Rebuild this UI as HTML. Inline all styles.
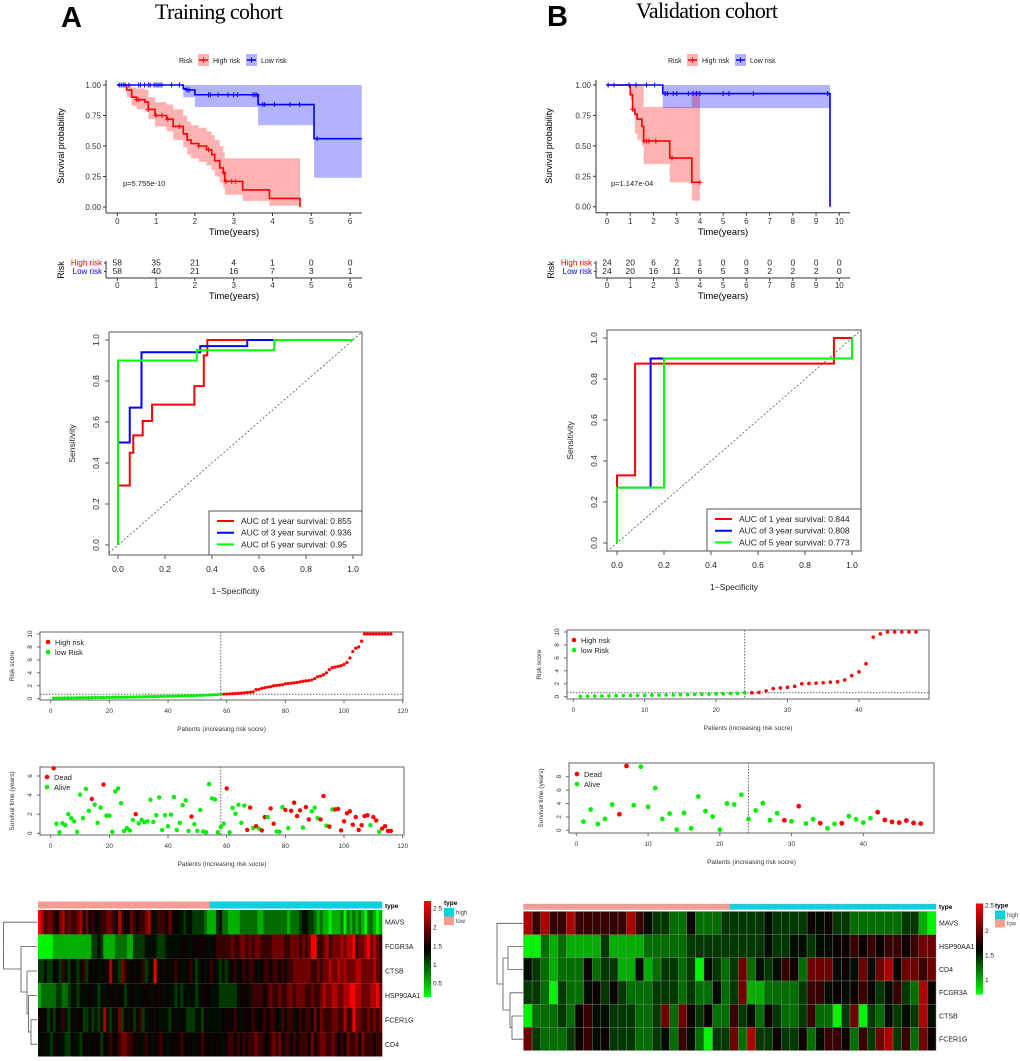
<!DOCTYPE html>
<html><head><meta charset="utf-8">
<style>
body{margin:0;background:#fff}
svg{display:block;font-family:"Liberation Sans",sans-serif}
</style></head>
<body>
<svg id="fig" width="1020" height="1061" viewBox="0 0 1020 1061">
<rect width="1020" height="1061" fill="#fff"/>
<text x="61" y="27" font-size="29" font-weight="bold">A</text>
<text x="155" y="19" font-family="Liberation Serif" font-size="22" textLength="128">Training cohort</text>
<text x="547" y="26" font-size="29" font-weight="bold">B</text>
<text x="636" y="18" font-family="Liberation Serif" font-size="22" textLength="142">Validation cohort</text>
</svg>
<script>
// ---------------- DATA ----------------
const kmHighA_t=[0,0.24,0.37,0.5,0.71,0.8,0.97,1.27,1.44,1.7,1.8,1.9,2.1,2.3,2.43,2.51,2.64,2.73,2.77,3.23,3.92,4.71];
const kmHighA_s=[1,0.96,0.9,0.88,0.86,0.8,0.75,0.72,0.66,0.6,0.55,0.52,0.5,0.47,0.43,0.38,0.32,0.28,0.21,0.14,0.07,0.0];
const kmHighA_u=[1,1,0.98,0.97,0.96,0.9,0.86,0.84,0.8,0.75,0.7,0.67,0.65,0.62,0.59,0.55,0.5,0.45,0.4,0.4,0.4,0.4];
const kmHighA_l=[1,0.9,0.83,0.8,0.78,0.72,0.66,0.62,0.55,0.49,0.43,0.4,0.37,0.34,0.3,0.25,0.2,0.16,0.1,0.05,0.01,0.01];
const kmHighA_c=[0.2,0.5,0.55,0.8,1.0,1.15,1.3,1.6,2.1,2.35,2.75,2.8,2.95,3.05];
const kmLowA_t=[0,1.7,1.77,2.0,3.63,5.07];
const kmLowA_s=[1,0.97,0.96,0.92,0.84,0.56];
const kmLowA_u=[1,1,1,1,1,1];
const kmLowA_l=[1,0.9,0.9,0.82,0.67,0.24];
const kmLowA_c=[0.05,0.1,0.15,0.2,0.3,0.55,0.6,0.7,0.8,0.85,0.95,1.0,1.05,1.1,1.15,1.4,1.6,1.8,1.85,2.35,2.4,2.6,2.85,3.0,3.1,3.5,3.55,3.6,3.75,3.8,4.05,4.45,4.7,5.15];
const nriskHighA=[58,35,21,4,1,0,0];
const nriskLowA=[58,40,21,16,7,3,1];
const timeTicksA=[0,1,2,3,4,5,6];
const kmHighB_t=[0,1.0,1.1,1.2,1.3,1.5,1.58,2.7,3.65];
const kmHighB_s=[1,0.92,0.8,0.76,0.72,0.66,0.54,0.4,0.2];
const kmHighB_u=[1,1,1,1,1,1,0.82,0.82,0.95];
const kmHighB_l=[1,0.88,0.78,0.6,0.55,0.5,0.35,0.2,0.05];
const kmHighB_c=[1.1,1.6,1.7,1.8,2.1,2.8,4.0];
const kmLowB_t=[0,2.4,9.6];
const kmLowB_s=[1,0.93,0];
const kmLowB_u=[1,1,1];
const kmLowB_l=[1,0.81,0.81];
const kmLowB_c=[0.05,0.3,0.95,1.25,1.7,2.05,2.5,2.6,2.85,3.0,3.5,3.7,3.85,4.0,5.0,5.25,6.3,9.5];
const nriskHighB=[24,20,6,2,1,0,0,0,0,0,0];
const nriskLowB=[24,20,16,11,6,5,3,2,2,2,0];
const timeTicksB=[0,1,2,3,4,5,6,7,8,9,10];
const survTicks=[0,0.25,0.5,0.75,1];
const survTickLabels=['0.00','0.25','0.50','0.75','1.00'];
const rocA1_fpr=[0,0,0.05,0.05,0.065,0.065,0.105,0.105,0.145,0.145,0.325,0.325,0.365,0.365,0.38,0.38,1];
const rocA1_tpr=[0,0.29,0.29,0.45,0.45,0.535,0.535,0.605,0.605,0.685,0.685,0.775,0.775,0.925,0.925,1,1];
const rocA3_fpr=[0,0,0.05,0.05,0.1,0.1,0.35,0.35,0.55,0.55,1];
const rocA3_tpr=[0,0.5,0.5,0.67,0.67,0.94,0.94,0.97,0.97,1,1];
const rocA5_fpr=[0,0,0.335,0.335,0.665,0.665,1];
const rocA5_tpr=[0,0.9,0.9,0.95,0.95,1,1];
const aucA=['0.855','0.936','0.95'];
const rocB1_fpr=[0,0,0.077,0.077,0.923,0.923,1];
const rocB1_tpr=[0,0.33,0.33,0.875,0.875,1,1];
const rocB3_fpr=[0,0,0.143,0.143,0.2,1,1];
const rocB3_tpr=[0,0.27,0.27,0.9,0.9,0.9,1];
const rocB5_fpr=[0,0,0.2,0.2,1,1];
const rocB5_tpr=[0,0.27,0.27,0.9,0.9,1];
const aucB=['0.844','0.808','0.773'];
const rocTicks=[0,0.2,0.4,0.6,0.8,1.0];
const rocTickLabels=['0.0','0.2','0.4','0.6','0.8','1.0'];
const riskA=[0.10,0.11,0.12,0.12,0.13,0.13,0.14,0.14,0.15,0.15,0.16,0.16,0.17,0.17,0.18,0.18,0.19,0.19,0.20,0.20,0.21,0.22,0.22,0.23,0.24,0.24,0.25,0.26,0.27,0.28,0.29,0.30,0.31,0.32,0.33,0.34,0.35,0.36,0.37,0.38,0.39,0.40,0.41,0.42,0.43,0.44,0.45,0.46,0.48,0.50,0.52,0.54,0.56,0.58,0.60,0.62,0.64,0.66,
0.70,0.72,0.74,0.76,0.78,0.82,0.86,0.90,0.95,1.00,1.05,1.40,1.45,1.60,1.70,1.80,1.85,2.00,2.05,2.10,2.15,2.30,2.35,2.40,2.45,2.50,2.60,2.70,2.75,2.80,2.90,3.10,3.40,3.50,3.70,4.00,4.50,4.80,4.90,5.00,5.10,5.30,5.60,6.30,7.30,7.80,8.00,8.90,10,10,10,10,10,10,10,10,10,10];
const lowCountA=58;
const cutoffA=0.68;
const riskB=[0.05,0.07,0.09,0.11,0.12,0.14,0.16,0.18,0.2,0.22,0.24,0.25,0.27,0.28,0.3,0.32,0.34,0.37,0.4,0.43,0.46,0.5,0.53,0.6,
0.62,0.66,0.9,1.25,1.35,1.45,1.6,2.0,2.05,2.1,2.15,2.25,2.3,2.6,3.25,3.85,5.1,9.2,9.7,10,10,10,10,10];
const lowCountB=24;
const cutoffB=0.62;
const riskTicks=[0,2,4,6,8,10];
const timeA=[6.8,1.0,0.1,1.05,0.85,2.0,1.6,1.25,0.15,4.05,1.6,4.65,2.35,3.6,3.0,1.1,2.7,5.1,1.85,1.85,0.15,4.4,4.7,3.15,0.25,0.55,0.3,1.4,2.0,1.05,1.4,1.15,1.25,3.5,1.2,1.9,3.75,0.35,1.9,0.75,1.95,3.8,0.35,1.1,2.95,3.45,0.25,1.75,0.95,0.25,2.45,0.2,0.1,5.15,3.65,3.55,0.1,0.65,1.0,4.7,0.1,2.65,2.05,3.0,1.1,2.9,0.35,2.7,0.55,0.75,0.5,0.3,1.7,1.7,2.6,1.0,0.2,0.15,2.75,2.45,0.55,2.35,3.2,1.8,2.4,0.6,2.75,1.45,2.3,2.7,1.6,1.45,3.9,0.8,0.7,2.5,2.5,2.55,0.3,1.25,2.1,2.3,0.9,1.7,0.35,0.85,1.8,1.9,0.85,1.7,1.35,0.15,0.5,0.75,0.25,0.25];
const deadA=[1,0,0,0,0,0,0,0,0,0, 0,0,0,1,0,0,0,1,0,0, 0,0,0,0,0,0,0,0,1,0, 0,0,0,0,0,0,0,0,0,0, 0,0,0,0,0,0,0,1,0,0, 0,0,0,0,0,0,0,0,0,1, 0,0,0,0,0,0,1,1,0,1, 0,1,1,0,1,1,0,0,0,1, 0,1,1,1,1,0,1,1,0,0, 0,1,1,0,1,0,1,1,1,1, 1,1,1,1,1,1,1,1,0,1, 1,0,1,1,1,1];
const timeB=[1.3,3.1,0.95,1.7,3.85,2.4,9.6,3.75,9.5,3.5,6.3,1.7,2.5,0.1,2.6,0.3,5.05,2.85,2.05,0.1,4.0,3.85,5.3,1.7,2.95,4.05,1.5,2.55,1.5,1.35,3.6,1.0,1.65,1.05,0.3,0.95,1.05,2.1,1.65,1.15,1.8,2.7,1.55,1.25,1.15,1.45,1.1,1.0];
const deadB=[0,0,0,0,0,1,1,0,0,0, 0,0,0,0,0,0,0,0,0,0, 0,0,0,0,0,0,0,0,1,0, 1,0,0,1,0,0,1,0,0,0, 0,1,1,1,1,1,1,1];
const survTicksA=[0,2,4,6];
const survTicksB=[0,2,4,6,8];
const patTicksA=[0,20,40,60,80,100,120];
const patTicksB=[0,10,20,30,40];
const genesA=['MAVS','FCGR3A','CTSB','HSP90AA1','FCER1G','CD4'];
const heatA=[
'9867765786'+'7667857565'+'4667765865'+'5765667844'+'6665755443'+'4433332111'+'3422111122'+'2222112222'+'2222122234'+'4332121101'+'1120212121'+'022101',
'0000011111'+'1111111133'+'4311112222'+'1133334444'+'3334444455'+'4455555445'+'6666676677'+'6767766667'+'7776677767'+'6799667867'+'7787889677'+'897876',
'3343354364'+'3543463545'+'4455854376'+'4545463449'+'5545456544'+'5643454565'+'4343456456'+'5665456656'+'6565667777'+'7766767787'+'7878777887'+'777876',
'1222223322'+'3443444544'+'3444554543'+'4544455545'+'5545443434'+'4443455544'+'4333333455'+'5466665676'+'6766776777'+'6676678778'+'8778899887'+'778897',
'5453435464'+'3545533434'+'3484354735'+'4534634454'+'5444354454'+'3334435444'+'4455556545'+'5565556566'+'5465664565'+'6657576667'+'7668669776'+'676767',
'4544345443'+'3544355455'+'5354655677'+'6655446545'+'5654455565'+'4545565545'+'5445665656'+'5667665567'+'6756656566'+'6575677667'+'6565766757'+'666566'];
const typeLowA=58;
const genesB=['MAVS','HSP90AA1','CD4','FCGR3A','CTSB','FCER1G'];
const heatB=[
'868668666666864332252223'+'333343333545332222223310',
'002121111311112222233333'+'333343344344556565665677',
'432122252331141233230432'+'372434652777454747857767',
'332032245353222333232242'+'371122223664545653463285',
'022232564433322372753522'+'634253223622037032434384',
'732223564533322342642033'+'728335335246652637836275'];
const typeLowB=24;

// ---------------- HELPERS ----------------
const NS='http://www.w3.org/2000/svg';
const svg=document.getElementById('fig');
function mk(tag,attrs,parent){const e=document.createElementNS(NS,tag);for(const k in attrs)e.setAttribute(k,attrs[k]);(parent||svg).appendChild(e);return e;}
function tx(x,y,s,attrs,parent){const e=mk('text',Object.assign({x:x,y:y},attrs||{}),parent);e.textContent=s;return e;}
function grp(name){const g=mk('g',{});


return g;}
function heatColor(L){const t=L/9;const a=Math.pow(Math.abs(2*t-1),1.35);const v=Math.round(245*a);return t<0.5?`rgb(0,${v},0)`:`rgb(${v},0,0)`;}

// ---------------- KM ----------------
function km(c){
 const g=grp(c.name);
 const X=t=>c.x0+t*c.ppy, Y=s=>c.y0-(c.y0-c.y1)*s;
 const lg=grp(c.name+'-legend'); g.appendChild(lg);
 tx(c.legX,63,'Risk',{'font-size':7,fill:'#222'},lg);
 c.groups.forEach((gr,i)=>{
  const bx=c.legX+19+i*48;
  const r=mk('rect',{x:bx,y:54,width:11,height:12,fill:gr.color,'fill-opacity':0.3},lg);
  
  
  mk('line',{x1:bx+1,y1:60,x2:bx+10,y2:60,stroke:gr.color,'stroke-width':1.5},lg);
  mk('line',{x1:bx+5.5,y1:57.5,x2:bx+5.5,y2:62.5,stroke:gr.color,'stroke-width':1},lg);
  tx(bx+15,63,gr.label,{'font-size':7,fill:'#222'},lg);
 });
 c.groups.forEach(gr=>{
  const n=gr.t.length;
  let d=`M${X(gr.t[0])},${Y(gr.u[0])}`;
  for(let i=1;i<n;i++)d+=`H${X(gr.t[i])}V${Y(gr.u[i])}`;
  d+=`H${X(gr.end)}V${Y(gr.l[n-1])}`;
  for(let i=n-1;i>=1;i--)d+=`H${X(gr.t[i])}V${Y(gr.l[i-1])}`;
  d+=`H${X(gr.t[0])}Z`;
  const p=mk('path',{d:d,fill:gr.color,'fill-opacity':0.3,stroke:'none'},g);
  
  
 });
 c.groups.forEach(gr=>{
  const n=gr.t.length;
  let d=`M${X(gr.t[0])},${Y(gr.s[0])}`;
  for(let i=1;i<n;i++)d+=`H${X(gr.t[i])}V${Y(gr.s[i])}`;
  d+=`H${X(gr.end)}`;
  const p=mk('path',{d:d,fill:'none',stroke:gr.color,'stroke-width':1.6},g);
  
  
  gr.c.forEach(ct=>{
   let s=gr.s[0];for(let i=0;i<n;i++)if(gr.t[i]<=ct)s=gr.s[i];
   const cm=mk('path',{d:`M${X(ct)-2.5},${Y(s)}h5M${X(ct)},${Y(s)-2.5}v5`,stroke:gr.color,'stroke-width':1},g);
   
   
  });
 });
 mk('line',{x1:c.ax,y1:80,x2:c.ax,y2:c.ab,stroke:'#333','stroke-width':1},g);
 mk('line',{x1:c.ax,y1:c.ab,x2:c.ar,y2:c.ab,stroke:'#333','stroke-width':1},g);
 survTicks.forEach((v,i)=>{
  mk('line',{x1:c.ax-3,y1:Y(v),x2:c.ax,y2:Y(v),stroke:'#333'},g);
  tx(c.ax-5,Y(v)+3,survTickLabels[i],{'font-size':8,'text-anchor':'end',fill:'#333'},g);
 });
 c.ticks.forEach(v=>{
  mk('line',{x1:X(v),y1:c.ab,x2:X(v),y2:c.ab+3,stroke:'#333'},g);
  tx(X(v),224,String(v),{'font-size':8,'text-anchor':'middle',fill:'#333'},g);
 });
 tx((c.ax+c.ar)/2,235,'Time(years)',{'font-size':9.5,'text-anchor':'middle'},g);
 tx(0,0,'Survival probability',{'font-size':9,'text-anchor':'middle',transform:`translate(${c.ylabX},146) rotate(-90)`},g);
 tx(c.pX,186,c.pval,{'font-size':7.5,fill:'#222'},g);
 const rt=grp(c.name+'-risk-table'); g.appendChild(rt);
 mk('line',{x1:c.ax,y1:261,x2:c.ax,y2:278,stroke:'#333'},rt);
 mk('line',{x1:c.ax,y1:278,x2:c.ar,y2:278,stroke:'#333'},rt);
 [[c.groups[0],265.5,c.nHigh],[c.groups[1],274,c.nLow]].forEach(([gr,yy,arr])=>{
  mk('line',{x1:c.ax-2,y1:yy-2.5,x2:c.ax,y2:yy-2.5,stroke:'#333'},rt);
  tx(c.ax-4,yy,gr.label,{'font-size':8,'text-anchor':'end',fill:gr.color},rt);
  arr.forEach((v,i)=>tx(X(c.ticks[i]),yy,String(v),{'font-size':8.5,'text-anchor':'middle',fill:'#222'},rt));
 });
 c.ticks.forEach(v=>{
  mk('line',{x1:X(v),y1:278,x2:X(v),y2:281,stroke:'#333'},rt);
  tx(X(v),288,String(v),{'font-size':8,'text-anchor':'middle',fill:'#333'},rt);
 });
 tx((c.ax+c.ar)/2,299,'Time(years)',{'font-size':9.5,'text-anchor':'middle'},rt);
 tx(0,0,'Risk',{'font-size':9,'text-anchor':'middle',transform:`translate(${c.ax-42},270) rotate(-90)`},rt);
}
km({name:'km-training',x0:117.3,ppy:38.8,y1:85,y0:207,ax:106,ab:213,ar:362,legX:179,ylabX:64,pX:123,pval:'p=5.755e-10',ticks:timeTicksA,nHigh:nriskHighA,nLow:nriskLowA,
 groups:[{key:'high-risk',label:'High risk',color:'#FF0000',t:kmHighA_t,s:kmHighA_s,u:kmHighA_u,l:kmHighA_l,c:kmHighA_c,end:4.71},
         {key:'low-risk',label:'Low risk',color:'#0000FF',t:kmLowA_t,s:kmLowA_s,u:kmLowA_u,l:kmLowA_l,c:kmLowA_c,end:6.3}]});
km({name:'km-validation',x0:607,ppy:23.23,y1:85,y0:206.7,ax:596,ab:212.7,ar:850,legX:668,ylabX:552,pX:611,pval:'p=1.147e-04',ticks:timeTicksB,nHigh:nriskHighB,nLow:nriskLowB,
 groups:[{key:'high-risk',label:'High risk',color:'#FF0000',t:kmHighB_t,s:kmHighB_s,u:kmHighB_u,l:kmHighB_l,c:kmHighB_c,end:4.0},
         {key:'low-risk',label:'Low risk',color:'#0000FF',t:kmLowB_t,s:kmLowB_s,u:kmLowB_u,l:kmLowB_l,c:kmLowB_c,end:9.6}]});

// ---------------- ROC ----------------
function roc(c){
 const g=grp(c.name);
 const X=v=>c.x0+(c.x1-c.x0)*v, Y=v=>c.y0-(c.y0-c.y1)*v;
 const box=mk('rect',{x:c.bx,y:c.by,width:c.bw,height:c.bh,fill:'none',stroke:'#555','stroke-width':1},g);
 
 
 const t0=(c.bx-c.x0)/(c.x1-c.x0), t1=(c.bx+c.bw-c.x0)/(c.x1-c.x0);
 mk('line',{x1:X(t0),y1:Y(t0),x2:X(t1),y2:Y(t1),stroke:'#555','stroke-dasharray':'2,2','stroke-width':0.8},g);
 const cols=['#FF0000','#0000FF','#00FF00'];
 c.curves.forEach((cv,k)=>{
  const p=mk('polyline',{points:cv.f.map((f,i)=>X(f)+','+Y(cv.t[i])).join(' '),fill:'none',stroke:cols[k],'stroke-width':2},g);
  
  
 });
 rocTicks.forEach((v,i)=>{
  mk('line',{x1:X(v),y1:c.by+c.bh,x2:X(v),y2:c.by+c.bh+4,stroke:'#555'},g);
  tx(X(v),c.by+c.bh+17,rocTickLabels[i],{'font-size':8.5,'text-anchor':'middle',fill:'#222'},g);
  mk('line',{x1:c.bx-4,y1:Y(v),x2:c.bx,y2:Y(v),stroke:'#555'},g);
  tx(0,0,rocTickLabels[i],{'font-size':8.5,'text-anchor':'middle',fill:'#222',transform:`translate(${c.bx-10},${Y(v)}) rotate(-90)`},g);
 });
 tx((c.bx+c.bw/2),c.by+c.bh+39,'1\u2212Specificity',{'font-size':8.5,'text-anchor':'middle',fill:'#222'},g);
 tx(0,0,'Sensitivity',{'font-size':8.5,'text-anchor':'middle',fill:'#222',transform:`translate(${c.bx-34},${c.by+c.bh/2}) rotate(-90)`},g);
 const lg=grp(c.name+'-legend'); g.appendChild(lg);
 mk('rect',{x:c.lx,y:c.ly,width:c.bx+c.bw-c.lx,height:c.by+c.bh-c.ly,fill:'#fff',stroke:'#555'},lg);
 ['1','3','5'].forEach((yr,k)=>{
  const yy=c.ly+10+k*11.7;
  mk('line',{x1:c.lx+8,y1:yy,x2:c.lx+25,y2:yy,stroke:cols[k],'stroke-width':2},lg);
  tx(c.lx+32,yy+3,`AUC of ${yr} year survival:  ${c.auc[k]}`,{'font-size':8.5,fill:'#222','xml:space':'preserve'},lg);
 });
}
roc({name:'roc-training',bx:109,by:332,bw:253,bh:223,x0:118,x1:353,y0:545,y1:340,lx:209,ly:511,auc:aucA,
 curves:[{f:rocA1_fpr,t:rocA1_tpr},{f:rocA3_fpr,t:rocA3_tpr},{f:rocA5_fpr,t:rocA5_tpr}]});
roc({name:'roc-validation',bx:607,by:330,bw:254,bh:221,x0:617,x1:852,y0:543,y1:338,lx:707,ly:509,auc:aucB,
 curves:[{f:rocB1_fpr,t:rocB1_tpr},{f:rocB3_fpr,t:rocB3_tpr},{f:rocB5_fpr,t:rocB5_tpr}]});

// ---------------- Dot panels ----------------
function dotPanel(c){
 const g=grp(c.name);
 const X=p=>c.x0+p*c.ppp, Y=v=>c.y0-v*c.ppv;
 const box=mk('rect',{x:c.bx,y:c.by,width:c.bw,height:c.bh,fill:'none',stroke:'#666','stroke-width':1},g);
 
 
 c.xt.forEach(v=>{
  mk('line',{x1:X(v),y1:c.by+c.bh,x2:X(v),y2:c.by+c.bh+3,stroke:'#666'},g);
  tx(X(v),c.by+c.bh+13,String(v),{'font-size':6.5,'text-anchor':'middle',fill:'#333'},g);
 });
 c.yt.forEach(v=>{
  mk('line',{x1:c.bx-3,y1:Y(v),x2:c.bx,y2:Y(v),stroke:'#666'},g);
  tx(0,0,String(v),{'font-size':6.5,'text-anchor':'middle',fill:'#333',transform:`translate(${c.bx-8},${Y(v)}) rotate(-90)`},g);
 });
 tx(c.bx+c.bw/2,c.by+c.bh+31,'Patients (increasing risk socre)',{'font-size':6.5,'text-anchor':'middle',fill:'#333'},g);
 tx(0,0,c.ylab,{'font-size':6.5,'text-anchor':'middle',fill:'#333',transform:`translate(${c.bx-26},${c.by+c.bh/2}) rotate(-90)`},g);
 mk('line',{x1:X(c.cut),y1:c.by,x2:X(c.cut),y2:c.by+c.bh,stroke:'#666','stroke-dasharray':'1.5,1.5'},g);
 if(c.hcut!=null) mk('line',{x1:c.bx,y1:Y(c.hcut),x2:c.bx+c.bw,y2:Y(c.hcut),stroke:'#666','stroke-dasharray':'1.5,1.5'},g);
 c.vals.forEach((v,i)=>{
  const red=c.isRed(i);
  const d=mk('circle',{cx:X(i+1),cy:Y(v),r:c.r,fill:red?'#FF0000':'#00EE00'},g);
  
  
 });
 c.leg.forEach((s,k)=>{
  mk('circle',{cx:c.lx,cy:c.ly+k*10,r:2.3,fill:k==0?'#FF0000':'#00EE00'},g);
  tx(c.lx+7,c.ly+k*10+3,s,{'font-size':7.5,fill:'#222'},g);
 });
}
dotPanel({name:'risk-score-training',bx:40,by:632,bw:363,bh:68,x0:50.7,ppp:2.933,y0:698.7,ppv:6.47,xt:patTicksA,yt:riskTicks,ylab:'Risk score',
 cut:lowCountA,hcut:cutoffA,vals:riskA,r:1.6,isRed:i=>i>=lowCountA,pointName:'risk-point',leg:['High risk','low Risk'],lx:48,ly:642});
dotPanel({name:'survival-status-training',bx:40,by:767,bw:364,bh:68,x0:50.7,ppp:2.933,y0:833.3,ppv:9.55,xt:patTicksA,yt:survTicksA,ylab:'Survival time (years)',
 cut:lowCountA,hcut:null,vals:timeA,r:2.2,isRed:i=>deadA[i]===1,pointName:'patient-point',leg:['Dead','Alive'],lx:47,ly:777});
dotPanel({name:'risk-score-validation',bx:567,by:630,bw:362,bh:69,x0:573.3,ppp:7.14,y0:696.7,ppv:6.47,xt:patTicksB,yt:riskTicks,ylab:'Risk score',
 cut:lowCountB,hcut:cutoffB,vals:riskB,r:1.8,isRed:i=>i>=lowCountB,pointName:'risk-point',leg:['High risk','low Risk'],lx:574,ly:640});
dotPanel({name:'survival-status-validation',bx:569,by:763,bw:365,bh:70,x0:576.3,ppp:7.175,y0:830.3,ppv:6.7,xt:patTicksB,yt:survTicksB,ylab:'Survival time (years)',
 cut:lowCountB,hcut:null,vals:timeB,r:2.4,isRed:i=>deadB[i]===1,pointName:'patient-point',leg:['Dead','Alive'],lx:577,ly:774});

// ---------------- Heatmaps ----------------
function heat(c){
 const g=grp(c.name);
 const nC=c.rows[0].length, cw=c.w/nC, rh=c.h/c.rows.length;
 for(let j=0;j<nC;j++){
  const r=mk('rect',{x:c.x+j*cw,y:c.ty,width:cw+(c.grid?0:0.3),height:c.th,fill:j<c.low?'#F79B93':'#00D3DE',stroke:c.grid?'#aaa':'none','stroke-width':0.4},g);
  
  
 }
 c.rows.forEach((row,i)=>{
  for(let j=0;j<nC;j++){
   const r=mk('rect',{x:c.x+j*cw,y:c.y+i*rh,width:cw+(c.grid?0:0.3),height:rh,fill:heatColor(+row[j]),stroke:c.grid?'#888':'none','stroke-width':0.4},g);
   
   
  }
  tx(c.x+c.w+3,c.y+i*rh+rh/2+2.5,c.genes[i],{'font-size':7,fill:'#222'},g);
 });
 tx(c.x+c.w+3,c.ty+c.th-0.5,'type',{'font-size':6.5,'font-weight':'bold'},g);
 const gid=c.name+'-grad';
 const defs=mk('defs',{},g);
 const lgd=mk('linearGradient',{id:gid,x1:0,y1:0,x2:0,y2:1},defs);
 mk('stop',{offset:'0','stop-color':'#FF0000'},lgd);
 mk('stop',{offset:'0.5','stop-color':'#000000'},lgd);
 mk('stop',{offset:'1','stop-color':'#00FF00'},lgd);
 const cb=mk('rect',{x:c.cbx,y:c.cby,width:7,height:c.cbh,fill:`url(#${gid})`},g);
 
 
 c.cbTicks.forEach(([lab,yy])=>tx(c.cbx+9,yy+2.5,lab,{'font-size':6.5,fill:'#222'},g));
 tx(c.tlx,c.cby+4,'type',{'font-size':6.5,'font-weight':'bold'},g);
 mk('rect',{x:c.tlx,y:c.cby+7,width:10,height:8.5,fill:'#00D3DE'},g);
 mk('rect',{x:c.tlx,y:c.cby+15.5,width:10,height:8.5,fill:'#F79B93'},g);
 tx(c.tlx+12,c.cby+13.5,'high',{'font-size':6,fill:'#444'},g);
 tx(c.tlx+12,c.cby+22,'low',{'font-size':6,fill:'#444'},g);
 const dg=mk('path',{d:c.dendro,fill:'none',stroke:'#555','stroke-width':0.8},g);
 
 
}
heat({name:'heatmap-training',x:38,w:344,ty:901.5,th:7,y:910,h:146.5,rows:heatA,genes:genesA,low:typeLowA,grid:false,
 cbx:424,cby:901,cbh:96,cbTicks:[['2.5',908],['2',927],['1.5',946],['1',964.5],['0.5',983]],tlx:444,
 dendro:'M37,922.2H3.5V969H21M21,946.6H37M21,946.6V992H27M27,971H37M27,971V1013.7H28.5M28.5,995.4H37M28.5,995.4V1032H31M31,1019.8H37M31,1019.8V1044.2H37'});
heat({name:'heatmap-validation',x:523.5,w:412.5,ty:904,th:5.5,y:911.5,h:139,rows:heatB,genes:genesB,low:typeLowB,grid:true,
 cbx:976,cby:903.5,cbh:91,cbTicks:[['2.5',905],['2',930.5],['1.5',955],['1',979.5]],tlx:995,
 dendro:'M523,923.3H497V984H503M503,958V1010H510M503,958H508M508,946.5V969.6M508,946.5H523M508,969.6H523M510,992.8V1027.6H512M510,992.8H523M512,1016V1039.2M512,1016H523M512,1039.2H523'});
</script>
</body></html>
